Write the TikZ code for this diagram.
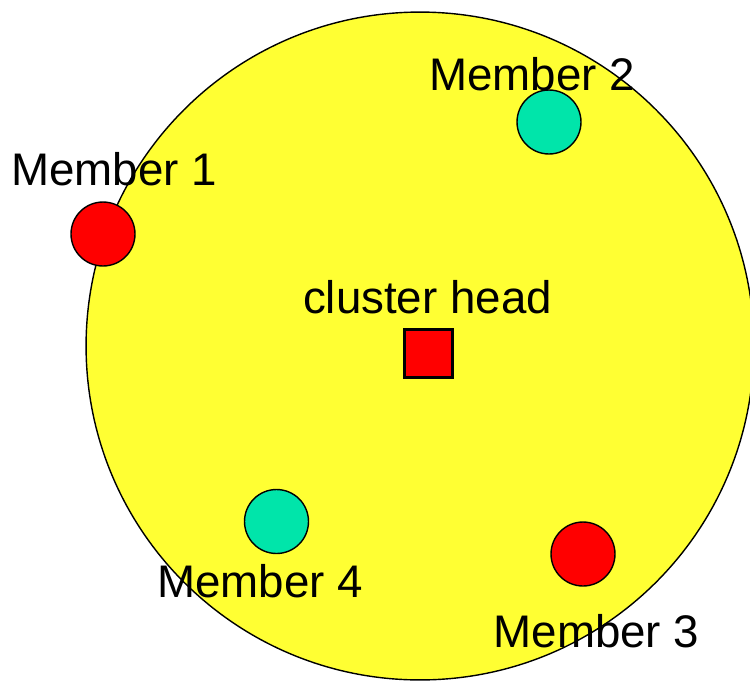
\documentclass[tikz,border=0pt]{standalone}
\usepackage{fontspec}
\setmainfont{Liberation Sans}
\usepackage{tikz}
\usetikzlibrary{positioning}

\definecolor{zoneyellow}{HTML}{FFFF33}
\definecolor{memgreen}{HTML}{00E5AA}
\definecolor{memred}{HTML}{FF0000}

\begin{document}
\begin{tikzpicture}[
      x=0.02cm, y=-0.02cm,
      every node/.style={font=\fontsize{26}{31}\selectfont},
      zone/.style={draw, circle, fill=zoneyellow, line width=0.8pt, minimum size=13.36cm, inner sep=0pt},
      member/.style={draw, circle, line width=0.8pt, minimum size=1.28cm, inner sep=0pt},
      headnode/.style={draw, rectangle, fill=memred, line width=1.2pt, minimum size=0.96cm, inner sep=0pt},
      lbl/.style={anchor=base, inner sep=0pt}
    ]
    \useasboundingbox (0,0) rectangle (750,680);

    % cluster range
    \node[zone] (range) at (420,346) {};

    % cluster head and its members
    \node[headnode] (head) at (428.5,353.5) {};
    \node[member, fill=memred]   (m1) at (103,234) {};
    \node[member, fill=memgreen] (m2) at (549,122) {};
    \node[member, fill=memred]   (m3) at (583,554) {};
    \node[member, fill=memgreen] (m4) at (276.5,521.5) {};

    % labels
    \node[lbl] (headlbl) at (427.5,313) {cluster head};
    \node[lbl] (m1lbl) at (114,185) {Member 1};
    \node[lbl] (m2lbl) at (532,90) {Member 2};
    \node[lbl] (m3lbl) at (596.5,647) {Member 3};
    \node[lbl] (m4lbl) at (260,597) {Member 4};
  \end{tikzpicture}
\end{document}
